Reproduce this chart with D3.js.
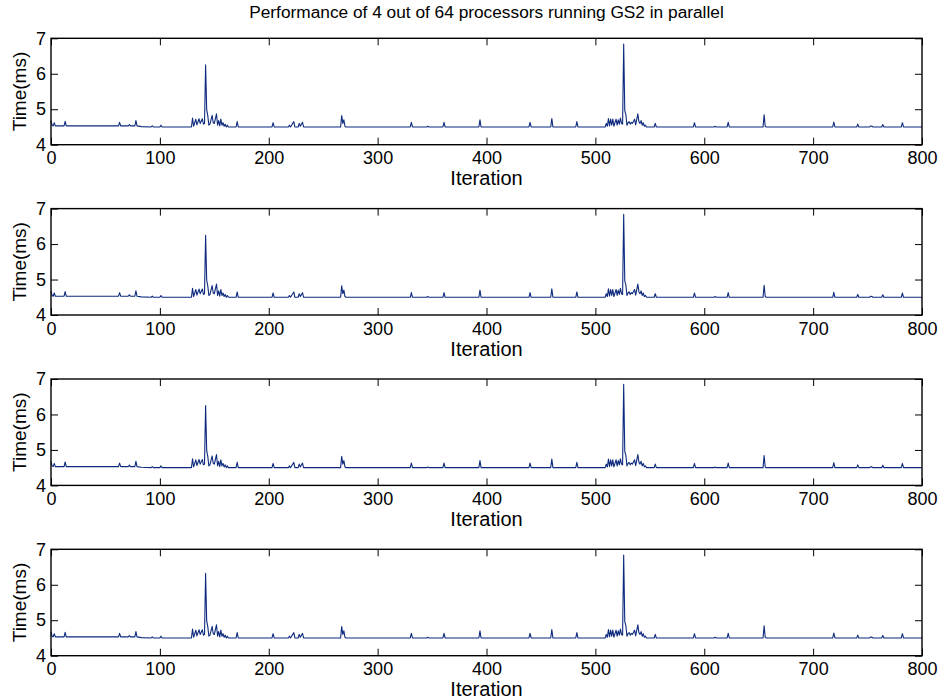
<!DOCTYPE html>
<html>
<head>
<meta charset="utf-8">
<script src="https://cdn.jsdelivr.net/npm/d3@7/dist/d3.min.js"></script>
<style>
  html, body { margin: 0; padding: 0; background: #fff; }
  svg { display: block; }
  text { font-family: "Liberation Sans", Arial, Helvetica, sans-serif; fill: #000; }
</style>
</head>
<body>
<svg id="chart" width="944" height="700"></svg>
<script>
// Iteration numbers at which the per-iteration timings change
const iteration = [
  0, 1, 2, 3, 4, 12, 13, 14, 62, 63, 64, 71, 72, 73, 77, 78, 79, 83,
  92, 93, 94, 100, 101, 102, 129, 130, 131, 133, 134, 136, 137, 139, 140, 141,
  142, 143, 144, 145, 146, 148, 149, 150, 152, 153, 154, 155, 156, 157, 158, 159,
  160, 161, 162, 163, 170, 171, 172, 203, 204, 205, 218, 219, 220, 223, 224, 227,
  228, 229, 231, 232, 266, 267, 268, 269, 270, 271, 330, 331, 332, 345, 346, 347,
  360, 361, 362, 393, 394, 395, 439, 440, 441, 459, 460, 461, 482, 483, 484, 509,
  510, 511, 512, 513, 514, 515, 516, 517, 519, 520, 521, 522, 523, 524, 525, 526,
  527, 528, 529, 530, 531, 532, 533, 534, 536, 537, 539, 540, 541, 542, 543, 544,
  545, 546, 547, 554, 555, 556, 590, 591, 592, 609, 610, 611, 621, 622, 623, 654,
  655, 656, 657, 718, 719, 720, 740, 741, 742, 752, 753, 754, 755, 763, 764, 765,
  781, 782, 783, 800
];

// Time per iteration (ms) for each of the four processors shown
const proc1 = [
  4.68, 4.55, 4.53, 4.62, 4.53, 4.53, 4.66, 4.53, 4.53, 4.63, 4.53, 4.53, 4.57, 4.53, 4.53, 4.68, 4.53, 4.51,
  4.50, 4.53, 4.50, 4.50, 4.55, 4.50, 4.50, 4.75, 4.52, 4.72, 4.56, 4.73, 4.60, 4.73, 4.58, 4.60,
  6.25, 4.98, 4.82, 4.55, 4.58, 4.83, 4.62, 4.60, 4.87, 4.55, 4.68, 4.53, 4.72, 4.55, 4.62, 4.52,
  4.58, 4.50, 4.55, 4.50, 4.50, 4.65, 4.50, 4.50, 4.62, 4.50, 4.50, 4.55, 4.50, 4.65, 4.50, 4.50,
  4.60, 4.52, 4.63, 4.50, 4.50, 4.82, 4.60, 4.70, 4.52, 4.50, 4.50, 4.63, 4.50, 4.50, 4.52, 4.50,
  4.50, 4.63, 4.50, 4.50, 4.70, 4.50, 4.50, 4.63, 4.50, 4.50, 4.74, 4.50, 4.50, 4.65, 4.50, 4.50,
  4.60, 4.52, 4.74, 4.53, 4.72, 4.55, 4.72, 4.52, 4.72, 4.55, 4.70, 4.58, 4.75, 4.60, 4.58, 6.84,
  4.96, 4.85, 4.55, 4.62, 4.65, 4.58, 4.63, 4.60, 4.72, 4.56, 4.87, 4.65, 4.60, 4.68, 4.55, 4.62,
  4.52, 4.55, 4.50, 4.50, 4.60, 4.50, 4.50, 4.62, 4.50, 4.50, 4.52, 4.50, 4.50, 4.63, 4.50, 4.50,
  4.84, 4.52, 4.50, 4.50, 4.64, 4.50, 4.50, 4.58, 4.50, 4.50, 4.53, 4.52, 4.50, 4.50, 4.57, 4.50,
  4.50, 4.62, 4.50, 4.50
];
const proc2 = [
  4.68, 4.55, 4.53, 4.62, 4.53, 4.53, 4.66, 4.53, 4.53, 4.63, 4.53, 4.53, 4.57, 4.53, 4.53, 4.68, 4.53, 4.51,
  4.50, 4.53, 4.50, 4.50, 4.55, 4.50, 4.50, 4.75, 4.52, 4.72, 4.56, 4.73, 4.60, 4.73, 4.58, 4.60,
  6.25, 4.98, 4.82, 4.55, 4.58, 4.83, 4.62, 4.60, 4.87, 4.55, 4.68, 4.53, 4.72, 4.55, 4.62, 4.52,
  4.58, 4.50, 4.55, 4.50, 4.50, 4.65, 4.50, 4.50, 4.62, 4.50, 4.50, 4.55, 4.50, 4.65, 4.50, 4.50,
  4.60, 4.52, 4.63, 4.50, 4.50, 4.82, 4.60, 4.70, 4.52, 4.50, 4.50, 4.63, 4.50, 4.50, 4.52, 4.50,
  4.50, 4.63, 4.50, 4.50, 4.70, 4.50, 4.50, 4.63, 4.50, 4.50, 4.74, 4.50, 4.50, 4.65, 4.50, 4.50,
  4.60, 4.52, 4.74, 4.53, 4.72, 4.55, 4.72, 4.52, 4.72, 4.55, 4.70, 4.58, 4.75, 4.60, 4.58, 6.84,
  4.96, 4.85, 4.55, 4.62, 4.65, 4.58, 4.63, 4.60, 4.72, 4.56, 4.87, 4.65, 4.60, 4.68, 4.55, 4.62,
  4.52, 4.55, 4.50, 4.50, 4.60, 4.50, 4.50, 4.62, 4.50, 4.50, 4.52, 4.50, 4.50, 4.63, 4.50, 4.50,
  4.84, 4.52, 4.50, 4.50, 4.64, 4.50, 4.50, 4.58, 4.50, 4.50, 4.53, 4.52, 4.50, 4.50, 4.57, 4.50,
  4.50, 4.62, 4.50, 4.50
];
const proc3 = [
  4.68, 4.55, 4.53, 4.62, 4.53, 4.53, 4.66, 4.53, 4.53, 4.63, 4.53, 4.53, 4.57, 4.53, 4.53, 4.68, 4.53, 4.51,
  4.50, 4.53, 4.50, 4.50, 4.55, 4.50, 4.50, 4.75, 4.52, 4.72, 4.56, 4.73, 4.60, 4.73, 4.58, 4.60,
  6.25, 4.98, 4.82, 4.55, 4.58, 4.83, 4.62, 4.60, 4.87, 4.55, 4.68, 4.53, 4.72, 4.55, 4.62, 4.52,
  4.58, 4.50, 4.55, 4.50, 4.50, 4.65, 4.50, 4.50, 4.62, 4.50, 4.50, 4.55, 4.50, 4.65, 4.50, 4.50,
  4.60, 4.52, 4.63, 4.50, 4.50, 4.82, 4.60, 4.70, 4.52, 4.50, 4.50, 4.63, 4.50, 4.50, 4.52, 4.50,
  4.50, 4.63, 4.50, 4.50, 4.70, 4.50, 4.50, 4.63, 4.50, 4.50, 4.74, 4.50, 4.50, 4.65, 4.50, 4.50,
  4.60, 4.52, 4.74, 4.53, 4.72, 4.55, 4.72, 4.52, 4.72, 4.55, 4.70, 4.58, 4.75, 4.60, 4.58, 6.85,
  4.96, 4.85, 4.55, 4.62, 4.65, 4.58, 4.63, 4.60, 4.72, 4.56, 4.87, 4.65, 4.60, 4.68, 4.55, 4.62,
  4.52, 4.55, 4.50, 4.50, 4.60, 4.50, 4.50, 4.62, 4.50, 4.50, 4.52, 4.50, 4.50, 4.63, 4.50, 4.50,
  4.84, 4.52, 4.50, 4.50, 4.64, 4.50, 4.50, 4.58, 4.50, 4.50, 4.53, 4.52, 4.50, 4.50, 4.57, 4.50,
  4.50, 4.62, 4.50, 4.50
];
const proc4 = [
  4.68, 4.55, 4.53, 4.62, 4.53, 4.53, 4.66, 4.53, 4.53, 4.63, 4.53, 4.53, 4.57, 4.53, 4.53, 4.68, 4.53, 4.51,
  4.50, 4.53, 4.50, 4.50, 4.55, 4.50, 4.50, 4.75, 4.52, 4.72, 4.56, 4.73, 4.60, 4.73, 4.58, 4.60,
  6.32, 4.98, 4.82, 4.55, 4.58, 4.83, 4.62, 4.60, 4.87, 4.55, 4.68, 4.53, 4.72, 4.55, 4.62, 4.52,
  4.58, 4.50, 4.55, 4.50, 4.50, 4.65, 4.50, 4.50, 4.62, 4.50, 4.50, 4.55, 4.50, 4.65, 4.50, 4.50,
  4.60, 4.52, 4.63, 4.50, 4.50, 4.82, 4.60, 4.70, 4.52, 4.50, 4.50, 4.63, 4.50, 4.50, 4.52, 4.50,
  4.50, 4.63, 4.50, 4.50, 4.70, 4.50, 4.50, 4.63, 4.50, 4.50, 4.74, 4.50, 4.50, 4.65, 4.50, 4.50,
  4.60, 4.52, 4.74, 4.53, 4.72, 4.55, 4.72, 4.52, 4.72, 4.55, 4.70, 4.58, 4.75, 4.60, 4.58, 6.84,
  4.96, 4.85, 4.55, 4.62, 4.65, 4.58, 4.63, 4.60, 4.72, 4.56, 4.87, 4.65, 4.60, 4.68, 4.55, 4.62,
  4.52, 4.55, 4.50, 4.50, 4.60, 4.50, 4.50, 4.62, 4.50, 4.50, 4.52, 4.50, 4.50, 4.63, 4.50, 4.50,
  4.84, 4.52, 4.50, 4.50, 4.64, 4.50, 4.50, 4.58, 4.50, 4.50, 4.53, 4.52, 4.50, 4.50, 4.57, 4.50,
  4.50, 4.62, 4.50, 4.50
];

const processors = [proc1, proc2, proc3, proc4];
const xTicks = [0, 100, 200, 300, 400, 500, 600, 700, 800];
const yTicks = [4, 5, 6, 7];
const xDomain = [0, 800];
const yDomain = [4, 7];
const titleText = "Performance of 4 out of 64 processors running GS2 in parallel";
const xLabel = "Iteration";
const yLabel = "Time(ms)";

const svg = d3.select("#chart");
const left = 51, right = 922;
const panelTops = [38.3, 208.6, 379, 549.3];
const panelH = 106.4;
const tick = 7;
const lineColor = "#0d2a7e";

const x = d3.scaleLinear().domain(xDomain).range([left, right]);

svg.append("text")
  .attr("x", (left + right) / 2)
  .attr("y", 18)
  .attr("text-anchor", "middle")
  .style("font-size", "17.3px")
  .text(titleText);

processors.forEach((series, i) => {
  const top = panelTops[i];
  const bottom = top + panelH;
  const y = d3.scaleLinear().domain(yDomain).range([bottom, top]);
  const g = svg.append("g");

  const pts = iteration.map((it, k) => [it, series[k]]);
  g.append("path")
    .datum(pts)
    .attr("fill", "none")
    .attr("stroke", lineColor)
    .attr("stroke-width", 1.1)
    .attr("stroke-linejoin", "round")
    .attr("d", d3.line().x(d => x(d[0])).y(d => y(d[1])));

  const styleAxis = sel => {
    sel.select(".domain").remove();
    sel.selectAll(".tick line").attr("stroke", "#000").attr("stroke-width", 1);
    sel.selectAll(".tick text").style("font-size", "18px").attr("fill", "#000");
  };

  g.append("g")
    .attr("transform", `translate(0,${bottom})`)
    .call(d3.axisBottom(x).tickValues(xTicks).tickFormat(d3.format("d"))
      .tickSizeInner(-tick).tickSizeOuter(0).tickPadding(6.8))
    .call(styleAxis);

  g.append("g")
    .attr("transform", `translate(0,${top})`)
    .call(d3.axisTop(x).tickValues(xTicks).tickFormat("")
      .tickSizeInner(-tick).tickSizeOuter(0))
    .call(styleAxis);

  g.append("g")
    .attr("transform", `translate(${left},0)`)
    .call(d3.axisLeft(y).tickValues(yTicks).tickFormat(d3.format("d"))
      .tickSizeInner(-tick).tickSizeOuter(0).tickPadding(5))
    .call(styleAxis);

  g.append("g")
    .attr("transform", `translate(${right},0)`)
    .call(d3.axisRight(y).tickValues(yTicks).tickFormat("")
      .tickSizeInner(-tick).tickSizeOuter(0))
    .call(styleAxis);

  g.append("rect")
    .attr("x", left).attr("y", top)
    .attr("width", right - left).attr("height", panelH)
    .attr("fill", "none").attr("stroke", "#000").attr("stroke-width", 1.4);

  g.append("text")
    .attr("x", (left + right) / 2)
    .attr("y", bottom + 40.5)
    .attr("text-anchor", "middle")
    .style("font-size", "20px")
    .text(xLabel);

  g.append("text")
    .attr("transform", `translate(26,${(top + bottom) / 2}) rotate(-90)`)
    .attr("text-anchor", "middle")
    .style("font-size", "19px")
    .text(yLabel);
});
</script>
</body>
</html>
